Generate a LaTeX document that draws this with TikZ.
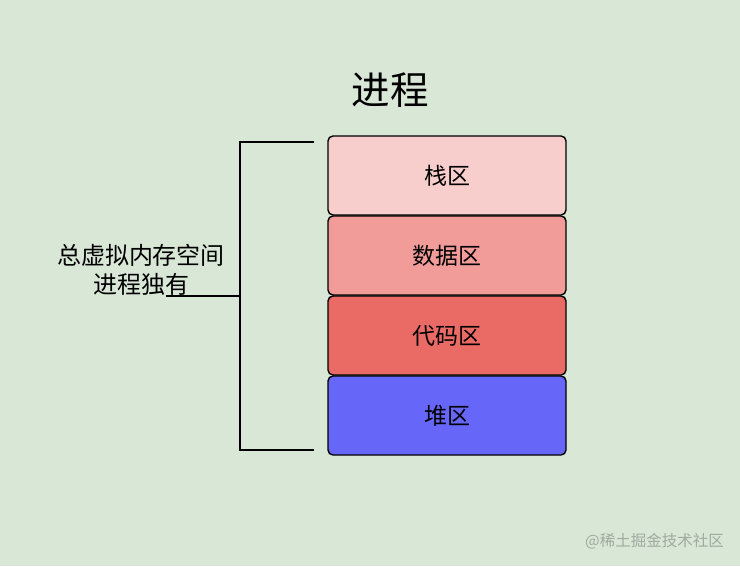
\documentclass[tikz,border=0pt]{standalone}
\usepackage{fontspec}
\setmainfont{Noto Sans CJK SC}
\begin{document}
\begin{tikzpicture}[x=1pt,y=-1pt,
  seg/.style={draw=black,line width=1.4pt,rounded corners=5pt,minimum width=238pt,minimum height=79pt,inner sep=0pt,font=\fontsize{23}{27}\selectfont},
  brk/.style={draw=black,line width=1.4pt}]
\fill[fill={rgb,255:red,217;green,231;blue,214}] (0,0) rectangle (740,566);
\useasboundingbox (0,0) rectangle (740,566);
\node[font=\fontsize{38.5}{45}\selectfont,inner sep=0pt] (title) at (390,90) {进程};
\node[seg,fill={rgb,255:red,248;green,206;blue,204}] (stack) at (447,175.5) {栈区};
\node[seg,fill={rgb,255:red,241;green,156;blue,153}] (data) at (447,255.5) {数据区};
\node[seg,fill={rgb,255:red,234;green,107;blue,102}] (code) at (447,335.5) {代码区};
\node[seg,fill={rgb,255:red,102;green,102;blue,248}] (heap) at (447,415.5) {堆区};
\node[align=center,font=\fontsize{24}{29}\selectfont,inner sep=0pt] (lbl) at (141,270) {总虚拟内存空间\\进程独有};
\coordinate (ttop) at (314,142);
\coordinate (tbot) at (314,450);
\coordinate (mid) at (240,296);
\coordinate (tail) at (166,296);
\draw[brk] (ttop) -- (240,142) -- (240,450) -- (tbot);
\draw[brk] (tail) -- (mid);
\node[text={rgb,255:red,160;green,170;blue,160},font=\fontsize{15.5}{18}\selectfont,anchor=east,inner sep=0pt] (wm) at (724,541) {@稀土掘金技术社区};
\end{tikzpicture}
\end{document}
